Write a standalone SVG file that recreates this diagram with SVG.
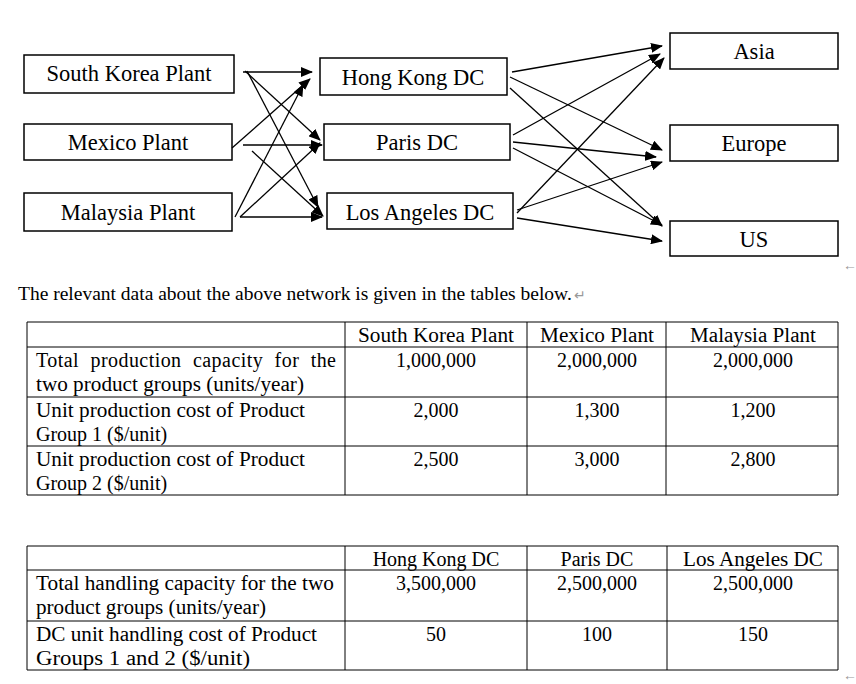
<svg xmlns="http://www.w3.org/2000/svg" width="856" height="684" viewBox="0 0 856 684">
<style>
text{font-family:"Liberation Serif","Times New Roman",serif;fill:#000}
.n rect{fill:#fff;stroke:#000;stroke-width:1.5}
.n text{font-size:22.5px;text-anchor:middle}
.c line{stroke:#000;stroke-width:1.3;marker-end:url(#a)}
.t{font-size:20px}
.m{text-anchor:middle}
.g line{stroke:#000;stroke-width:1}
.r{fill:#999;font-size:14px}
</style>
<defs><marker id="a" markerWidth="12" markerHeight="10" refX="11" refY="5" orient="auto" markerUnits="userSpaceOnUse"><path d="M0,0 L12,5 L0,10 Z" fill="#000"/></marker></defs>
<rect width="856" height="684" fill="#fff"/>
<g id="sk" class="n"><rect x="24" y="55" width="210" height="38"/><text x="129" y="81">South Korea Plant</text></g>
<g id="mx" class="n"><rect x="24" y="124" width="208" height="36"/><text x="128" y="150">Mexico Plant</text></g>
<g id="my" class="n"><rect x="24" y="193" width="208" height="38"/><text x="128" y="220">Malaysia Plant</text></g>
<g id="hk" class="n"><rect x="320" y="58" width="187" height="37"/><text x="413" y="85">Hong Kong DC</text></g>
<g id="pa" class="n"><rect x="324" y="124" width="186" height="36"/><text x="417" y="150">Paris DC</text></g>
<g id="la" class="n"><rect x="327" y="193" width="186" height="36"/><text x="420" y="220">Los Angeles DC</text></g>
<g id="as" class="n"><rect x="670" y="33" width="168" height="36"/><text x="754" y="59">Asia</text></g>
<g id="eu" class="n"><rect x="670" y="125" width="168" height="36"/><text x="754" y="151">Europe</text></g>
<g id="us" class="n"><rect x="670" y="221" width="168" height="35"/><text x="754" y="247">US</text></g>
<g id="connectors" class="c">
<line x1="243" y1="72" x2="312" y2="72"/>
<line x1="245" y1="71" x2="320" y2="140"/>
<line x1="247" y1="71" x2="318" y2="207"/>
<line x1="232" y1="148" x2="310" y2="79"/>
<line x1="243" y1="145" x2="322" y2="145"/>
<line x1="252" y1="151" x2="323" y2="216"/>
<line x1="235" y1="217" x2="303" y2="85"/>
<line x1="240" y1="217" x2="320" y2="143"/>
<line x1="240" y1="217" x2="322" y2="217"/>
<line x1="512" y1="72" x2="662" y2="46"/>
<line x1="510" y1="77" x2="662" y2="150"/>
<line x1="510" y1="88" x2="662" y2="226"/>
<line x1="513" y1="135" x2="660" y2="54"/>
<line x1="513" y1="142" x2="656" y2="157"/>
<line x1="513" y1="148" x2="662" y2="225"/>
<line x1="517" y1="213" x2="664" y2="58"/>
<line x1="517" y1="210" x2="662" y2="162"/>
<line x1="517" y1="218" x2="662" y2="241"/>
</g>
<text x="843" y="270" class="r">←</text>
<text x="18" y="300" style="font-size:19.5px">The relevant data about the above network is given in the tables below.<tspan class="r" dx="2">↵</tspan></text>
<g class="g">
<line x1="27" y1="322" x2="838" y2="322"/><line x1="27" y1="347" x2="838" y2="347"/><line x1="27" y1="397" x2="838" y2="397"/><line x1="27" y1="446" x2="838" y2="446"/><line x1="27" y1="495" x2="838" y2="495"/>
<line x1="27" y1="322" x2="27" y2="495"/><line x1="345" y1="322" x2="345" y2="495"/><line x1="527" y1="322" x2="527" y2="495"/><line x1="666" y1="322" x2="666" y2="495"/><line x1="838" y1="322" x2="838" y2="495"/>
<line x1="27" y1="546" x2="838" y2="546"/><line x1="27" y1="570" x2="838" y2="570"/><line x1="27" y1="621" x2="838" y2="621"/><line x1="27" y1="670" x2="838" y2="670"/>
<line x1="27" y1="546" x2="27" y2="670"/><line x1="345" y1="546" x2="345" y2="670"/><line x1="527" y1="546" x2="527" y2="670"/><line x1="667" y1="546" x2="667" y2="670"/><line x1="838" y1="546" x2="838" y2="670"/>
</g>
<g class="t">
<text x="436" y="342" class="m" textLength="156" lengthAdjust="spacingAndGlyphs">South Korea Plant</text><text x="597" y="342" class="m" textLength="114" lengthAdjust="spacingAndGlyphs">Mexico Plant</text><text x="753" y="342" class="m" textLength="126" lengthAdjust="spacingAndGlyphs">Malaysia Plant</text>
<text x="36" y="367" textLength="300" lengthAdjust="spacing" word-spacing="6">Total production capacity for the</text><text x="36" y="391" textLength="268" lengthAdjust="spacingAndGlyphs">two product groups (units/year)</text>
<text x="436" y="367" class="m">1,000,000</text><text x="597" y="367" class="m">2,000,000</text><text x="753" y="367" class="m">2,000,000</text>
<text x="36" y="417" textLength="269" lengthAdjust="spacingAndGlyphs">Unit production cost of Product</text><text x="36" y="441">Group 1 ($/unit)</text>
<text x="436" y="417" class="m">2,000</text><text x="597" y="417" class="m">1,300</text><text x="753" y="417" class="m">1,200</text>
<text x="36" y="466" textLength="269" lengthAdjust="spacingAndGlyphs">Unit production cost of Product</text><text x="36" y="490">Group 2 ($/unit)</text>
<text x="436" y="466" class="m">2,500</text><text x="597" y="466" class="m">3,000</text><text x="753" y="466" class="m">2,800</text>
<text x="436" y="566" class="m">Hong Kong  DC</text><text x="597" y="566" class="m">Paris DC</text><text x="753" y="566" class="m" textLength="140" lengthAdjust="spacingAndGlyphs">Los Angeles DC</text>
<text x="436" y="590" class="m">3,500,000</text><text x="597" y="590" class="m">2,500,000</text><text x="753" y="590" class="m">2,500,000</text>
<text x="36" y="590" textLength="298" lengthAdjust="spacingAndGlyphs">Total handling capacity for the two</text><text x="36" y="614" textLength="230" lengthAdjust="spacingAndGlyphs">product groups (units/year)</text>
<text x="36" y="641" textLength="281" lengthAdjust="spacingAndGlyphs">DC unit handling cost of Product</text><text x="36" y="665" textLength="214" lengthAdjust="spacingAndGlyphs">Groups 1 and 2 ($/unit)</text>
<text x="436" y="641" class="m">50</text><text x="597" y="641" class="m">100</text><text x="753" y="641" class="m">150</text>
</g>
<text x="843" y="680" class="r">←</text>
</svg>
